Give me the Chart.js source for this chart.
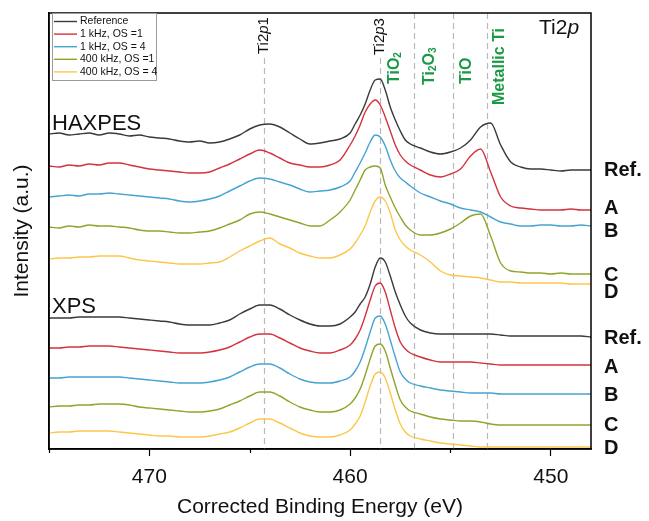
<!DOCTYPE html>
<html>
<head>
<meta charset="utf-8">
<script src="https://cdn.jsdelivr.net/npm/chart.js@4.4.0/dist/chart.umd.min.js"></script>
<style>
  html, body { margin: 0; padding: 0; background: #fff; }
</style>
</head>
<body>
<canvas id="ti2pChart" width="649" height="521"></canvas>
<script>
// Ti 2p spectra, stacked (values already include the vertical offsets)
var energies = [475,474.5,474,473.5,473,472.5,472,471.5,471,470.5,470,469.5,469,468.5,468,467.5,467,466.5,466,465.5,465,464.5,464,463.5,463,462.5,462,461.5,461,460.5,460,
  459.75,459.5,459.25,459,458.75,458.5,458.25,458,457.75,457.5,457.25,
  457,456.5,456,455.5,455,454.5,454,453.5,453,452.5,452,451.5,451,450.5,450,449.5,449,448.5,448];

var haxpesRef = [315,316,314,315,316,314,316,315,313,314,312,311,310,308,307,308,306,307,310,314,320,324,325,322,316,310,305,306,308,310,316,
  325,334,345,359,369,370,359,342,329,318,309,
  305,301,297,295,297,301,309,322,326,304,287,282,280,280,279,278,279,279,279];
var haxpesA = [283,282,284,283,285,284,286,286,284,282,280,279,278,277,276,276,277,281,285,290,295,299,296,291,286,284,282,282,284,289,304,
  313,324,337,345,349,344,332,318,304,294,288,
  284,279,274,272,275,280,293,300,277,252,243,241,240,239,239,239,240,239,239];
var haxpesB = [252,253,254,253,255,255,256,255,254,253,252,251,250,248,247,248,250,253,258,263,268,271,270,267,264,260,257,258,259,262,268,
  277,286,296,307,314,312,303,289,278,271,267,
  263,256,252,248,245,241,239,237,232,227,225,223,223,224,224,223,223,224,223];
var haxpesC = [222,221,223,222,224,223,223,222,221,219,218,218,217,216,216,217,218,221,225,229,235,237,235,232,229,226,223,223,229,237,249,
  259,269,279,282,283,281,264,252,241,232,224,
  219,214,214,216,220,226,233,235,213,186,178,177,176,176,175,176,175,175,175];
var haxpesD = [190,191,191,192,192,193,193,193,191,189,188,187,186,185,185,185,186,187,192,198,203,208,211,205,201,196,193,191,191,194,200,
  206,214,223,237,248,252,248,236,219,209,203,
  199,194,187,178,174,173,172,171,169,167,167,166,166,166,166,166,165,165,165];

var xpsRef = [131,131,131,132,132,132,132,132,131,130,129,128,127,125,124,124,124,126,129,135,140,144,144,140,134,129,125,123,123,125,132,
  137,145,152,165,182,191,187,173,157,144,133,
  126,119,116,115,115,115,115,115,115,114,113,113,113,113,113,113,113,113,112];
var xpsA = [101,101,102,102,103,103,103,102,101,100,99,98,97,96,96,96,97,99,102,107,112,115,115,111,106,101,98,96,96,99,104,
  110,119,133,149,163,166,157,139,121,107,100,
  96,92,89,87,87,87,87,86,85,84,84,84,84,84,84,84,84,84,84];
var xpsB = [71,71,72,72,72,72,72,72,71,70,69,68,67,66,66,66,67,69,72,77,82,85,85,81,75,70,67,66,66,68,72,
  78,87,101,117,131,133,125,109,92,77,70,
  66,63,61,59,58,57,56,56,56,55,55,55,55,55,55,55,55,55,55];
var xpsC = [42,43,43,44,44,45,45,45,44,42,41,40,39,38,37,37,38,40,44,48,53,57,57,53,47,42,39,37,37,39,45,
  51,60,74,90,103,105,98,81,64,49,42,
  38,35,32,30,29,28,28,27,25,24,24,24,24,24,24,24,24,24,24];
var xpsD = [16,17,17,18,18,18,18,17,16,15,14,13,13,12,12,12,13,15,17,21,26,30,30,26,21,16,13,12,12,14,19,
  25,33,47,63,75,77,71,56,39,25,17,
  13,10,8,6,5,4,3,2,2,2,2,2,2,2,2,2,2,2,2];

var legendLabels = ['Reference', '1 kHz, OS =1', '1 kHz, OS = 4', '400 kHz, OS =1', '400 kHz, OS = 4'];
var sampleLabels = ['Ref.', 'A', 'B', 'C', 'D'];
var xTickValues = [470, 460, 450];
var peakLines = [464.3, 458.5, 456.8, 454.85, 453.2];

var colors = ['#3a3a3a', '#d3323f', '#45a3d2', '#8ea52c', '#fdc649'];
var FONT = 'Arial, "Liberation Sans", sans-serif';

function pts(vals) {
  var out = [];
  for (var i = 0; i < energies.length; i++) out.push({x: energies[i], y: vals[i]});
  return out;
}

var haxpes = [haxpesRef, haxpesA, haxpesB, haxpesC, haxpesD];
var xps = [xpsRef, xpsA, xpsB, xpsC, xpsD];
var datasets = [];
for (var k = 0; k < 5; k++) {
  datasets.push({label: legendLabels[k] + ' HAXPES', data: pts(haxpes[k]), borderColor: colors[k], borderWidth: 1.4,
    pointRadius: 0, cubicInterpolationMode: 'monotone', fill: false});
}
for (var k = 0; k < 5; k++) {
  datasets.push({label: legendLabels[k] + ' XPS', data: pts(xps[k]), borderColor: colors[k], borderWidth: 1.4,
    pointRadius: 0, cubicInterpolationMode: 'monotone', fill: false});
}

// draw a run of text pieces (for italics / subscripts)
function drawRuns(ctx, runs, x, y) {
  for (var i = 0; i < runs.length; i++) {
    ctx.font = runs[i].f;
    ctx.fillText(runs[i].t, x, y + (runs[i].dy || 0));
    x += ctx.measureText(runs[i].t).width;
  }
}

function drawRotated(ctx, runs, x, y) {
  ctx.save();
  ctx.translate(x, y);
  ctx.rotate(-Math.PI / 2);
  ctx.textBaseline = 'middle';
  ctx.textAlign = 'left';
  drawRuns(ctx, runs, 0, 0);
  ctx.restore();
}

var overlay = {
  id: 'overlay',
  beforeDatasetsDraw: function(chart) {
    var ctx = chart.ctx, xs = chart.scales.x, a = chart.chartArea;
    var starts = [45, 45, 0, 0, 0];
    ctx.save();
    ctx.strokeStyle = '#b9b9b9';
    ctx.lineWidth = 1.2;
    ctx.setLineDash([6, 4]);
    for (var i = 0; i < peakLines.length; i++) {
      var px = Math.round(xs.getPixelForValue(peakLines[i])) + 0.5;
      ctx.beginPath();
      ctx.moveTo(px, a.top + starts[i]);
      ctx.lineTo(px, a.bottom);
      ctx.stroke();
    }
    ctx.restore();
  },
  afterDraw: function(chart) {
    var ctx = chart.ctx, xs = chart.scales.x, ys = chart.scales.y, a = chart.chartArea;
    ctx.save();
    // frame
    ctx.strokeStyle = '#000';
    ctx.lineWidth = 1.5;
    ctx.strokeRect(a.left, a.top, a.right - a.left, a.bottom - a.top);

    // minor ticks (shorter than the labelled ones)
    ctx.lineWidth = 1.2;
    xs.ticks.forEach(function(t) {
      if (xTickValues.indexOf(t.value) >= 0) return;
      var px = Math.round(xs.getPixelForValue(t.value)) + 0.5;
      ctx.beginPath();
      ctx.moveTo(px, a.bottom);
      ctx.lineTo(px, a.bottom + 4);
      ctx.stroke();
    });

    // legend
    ctx.fillStyle = '#fff';
    ctx.fillRect(a.left + 3, a.top, 104, 67);
    ctx.strokeStyle = '#9a9a9a';
    ctx.lineWidth = 1;
    ctx.strokeRect(a.left + 3.5, a.top + 0.5, 104, 67);
    ctx.textBaseline = 'middle';
    ctx.font = '10.5px ' + FONT;
    for (var i = 0; i < legendLabels.length; i++) {
      var ly = a.top + 8.5 + i * 12.6;
      ctx.strokeStyle = colors[i];
      ctx.lineWidth = 1.4;
      ctx.beginPath();
      ctx.moveTo(a.left + 5, ly);
      ctx.lineTo(a.left + 28, ly);
      ctx.stroke();
      ctx.fillStyle = '#111';
      ctx.fillText(legendLabels[i], a.left + 31, ly);
    }

    // block labels
    ctx.fillStyle = '#111';
    ctx.font = '22px ' + FONT;
    ctx.textAlign = 'left';
    ctx.fillText('HAXPES', a.left + 3, ys.getPixelForValue(325));
    ctx.fillText('XPS', a.left + 3, ys.getPixelForValue(142));

    // Ti2p panel label
    ctx.textBaseline = 'alphabetic';
    drawRuns(ctx, [{t: 'Ti2', f: '21px ' + FONT}, {t: 'p', f: 'italic 21px ' + FONT}], a.right - 52, a.top + 21);

    // peak labels
    ctx.fillStyle = '#111';
    var lx = function(i) { return xs.getPixelForValue(peakLines[i]); };
    drawRotated(ctx, [{t: 'Ti2', f: '15px ' + FONT}, {t: 'p', f: 'italic 15px ' + FONT}, {t: '1', f: '15px ' + FONT}], lx(0), a.top + 41);
    drawRotated(ctx, [{t: 'Ti2', f: '15px ' + FONT}, {t: 'p', f: 'italic 15px ' + FONT}, {t: '3', f: '15px ' + FONT}], lx(1), a.top + 42);
    ctx.fillStyle = '#1a9a45';
    var gb = 'bold 16px ' + FONT, gs = 'bold 10px ' + FONT;
    drawRotated(ctx, [{t: 'TiO', f: gb}, {t: '2', f: gs, dy: 4}], lx(1) + 14, a.top + 71);
    drawRotated(ctx, [{t: 'Ti', f: gb}, {t: '2', f: gs, dy: 4}, {t: 'O', f: gb}, {t: '3', f: gs, dy: 4}], lx(2) + 15, a.top + 72);
    drawRotated(ctx, [{t: 'TiO', f: gb}], lx(3) + 13, a.top + 71);
    drawRotated(ctx, [{t: 'Metallic Ti', f: gb}], lx(4) + 13, a.top + 92);

    // sample labels on the right
    ctx.fillStyle = '#111';
    ctx.font = 'bold 20px ' + FONT;
    ctx.textBaseline = 'middle';
    var nudgeH = [0, -2, 5, 1, 8], nudgeX = [1, 2, 1, 0, 1];
    for (var j = 0; j < 5; j++) {
      var hv = haxpes[j][haxpes[j].length - 1], xv = xps[j][xps[j].length - 1];
      ctx.fillText(sampleLabels[j], a.right + 13, ys.getPixelForValue(hv) + nudgeH[j]);
      ctx.fillText(sampleLabels[j], a.right + 13, ys.getPixelForValue(xv) + nudgeX[j]);
    }
    ctx.restore();
  }
};

var ctx = document.getElementById('ti2pChart').getContext('2d');
var ti2pChart = new Chart(ctx, {
  type: 'line',
  data: {datasets: datasets},
  options: {
    responsive: false,
    animation: false,
    layout: {padding: {top: 13, right: 58, left: 0, bottom: 0}},
    plugins: {legend: {display: false}, tooltip: {enabled: false}},
    scales: {
      x: {
        type: 'linear', reverse: true, min: 448, max: 475,
        afterFit: function(s) { s.height = 72; },
        grid: {display: true, drawOnChartArea: false, tickLength: 7, tickWidth: 1.2,
          tickColor: function(c) { return c.tick && xTickValues.indexOf(c.tick.value) >= 0 ? '#000' : 'rgba(0,0,0,0)'; }},
        border: {display: true, color: '#000', width: 1.5},
        ticks: {
          stepSize: 5, includeBounds: false, padding: 9, color: '#111', maxRotation: 0, autoSkip: false,
          font: {family: FONT, size: 21},
          callback: function(v) { return xTickValues.indexOf(v) >= 0 ? String(v) : ''; }
        },
        title: {display: true, text: 'Corrected Binding Energy (eV)', color: '#111', font: {family: FONT, size: 21}, padding: {top: 0, bottom: 1}}
      },
      y: {
        min: 0, max: 436,
        afterFit: function(s) { s.width = 49; },
        grid: {display: false},
        border: {display: true, color: '#000', width: 1.5},
        ticks: {display: false},
        title: {display: true, text: 'Intensity (a.u.)', color: '#111', font: {family: FONT, size: 21}, padding: {top: 10, bottom: 0}}
      }
    }
  },
  plugins: [overlay]
});
</script>
</body>
</html>
